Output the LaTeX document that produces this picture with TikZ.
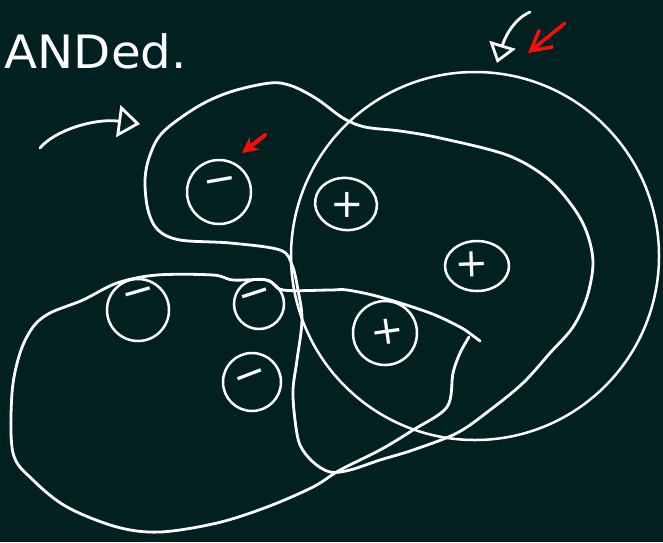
\documentclass[tikz,border=0pt]{standalone}
\usepackage{fontspec}
\newfontfamily\chalkfont{DejaVu Sans}
\usetikzlibrary{arrows.meta,shapes.geometric}
\definecolor{board}{RGB}{1,33,33}
\definecolor{chalkred}{RGB}{255,10,10}

\begin{document}
\begin{tikzpicture}[x=1pt,y=-1pt,
  chalk/.style={draw=white,line width=2.8pt,line cap=round,line join=round},
  ring/.style={circle,draw=white,line width=2.5pt,inner sep=0pt},
  oval/.style={ellipse,draw=white,line width=2.5pt,inner sep=0pt},
  sgn/.style={text=white,font=\chalkfont\fontsize{40}{40}\selectfont,inner sep=0pt},
  redarr/.style={draw=chalkred,line width=3.4pt,line cap=round}]
\fill[board] (0,0) rectangle (663,542);
\useasboundingbox (0,0) rectangle (663,542);
\node[anchor=base west,text=white,xscale=1.05,font=\chalkfont\fontsize{46}{46}\selectfont] (title) at (1,68) {ANDed.};
% big circle and the two blobs
\draw[chalk,line width=2.5pt] (475,256) circle[radius=184pt];
\draw[chalk] plot[smooth cycle,tension=0.55] coordinates {
  (148,210) (145,180) (150,155) (163,132) (197,107) (230,92) (270,83) (292,86)
  (317,99) (343,118) (365,127) (400,131) (440,138) (507,155) (547,178) (573,207)
  (587,233) (593,263) (587,297) (573,327) (550,353) (523,383) (490,410) (457,433)
  (413,450) (380,460) (350,470) (330,472) (313,462) (300,445) (295,420) (293,390)
  (297,360) (302,320) (298,290) (292,265) (280,250) (230,243) (180,240) (158,230)};
\draw[chalk] plot[smooth,tension=0.55] coordinates {
  (480,341) (472,335) (460,327) (430,313) (380,297) (347,290) (330,290) (283,290)
  (267,280) (233,280) (213,275) (157,275) (117,283) (83,300) (50,313) (33,327)
  (20,353) (12,393) (13,453) (33,480) (67,507) (117,527) (160,532) (217,523)
  (267,507) (313,487) (340,470) (380,450) (413,430) (447,407) (453,373) (460,353)
  (469,337)};
% charges
\node[ring,minimum size=64pt] (m1) at (219,192) {};
\node[sgn,rotate=10] (m1s) at (221,186) {−};
\node[ring,minimum size=62pt] (m2) at (138,310) {};
\node[sgn,rotate=16] (m2s) at (140,297) {−};
\node[ring,minimum size=50pt] (m3) at (259,304) {};
\node[sgn,rotate=18] (m3s) at (256,299) {−};
\node[ring,minimum size=58pt] (m4) at (252,382) {};
\node[sgn,rotate=21] (m4s) at (252,380) {−};
\node[ring,minimum size=64pt] (p1) at (385,333) {};
\node[sgn,rotate=8] (p1s) at (387,332) {+};
\node[oval,minimum width=62pt,minimum height=52pt,rotate=-8] (p2) at (346,204) {};
\node[sgn] (p2s) at (347,205) {+};
\node[oval,minimum width=64pt,minimum height=50pt] (p3) at (477,266) {};
\node[sgn,rotate=2] (p3s) at (472,264) {+};
% arrows
\coordinate (wa0) at (40,148);
\coordinate (wa1) at (140,124);
\coordinate (wb0) at (530,12);
\coordinate (wb1) at (497,63);
\coordinate (ra0) at (565,23);
\coordinate (ra1) at (528,53);
\coordinate (rb0) at (265,135);
\coordinate (rb1) at (242,153);
\draw[chalk,-{Triangle[open,length=22pt,width=32pt]}] (wa0) .. controls (55,130) and (95,118) .. (wa1);
\draw[chalk,-{Triangle[open,length=19pt,width=27pt]}] (wb0) .. controls (512,20) and (504,40) .. (wb1);
\draw[redarr,-{Straight Barb[length=20pt,width=22pt]}] (ra0) -- (ra1);
\draw[redarr,line width=4pt,-{Stealth[length=16pt,width=16pt]}] (rb0) -- (rb1);
\end{tikzpicture}
\end{document}
